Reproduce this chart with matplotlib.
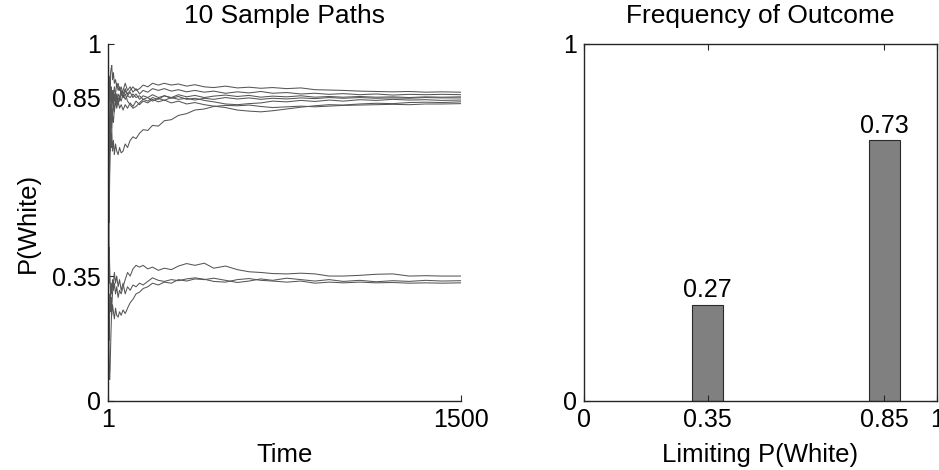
import matplotlib
matplotlib.use("Agg")
import matplotlib.pyplot as plt

plt.rcParams['font.family'] = ['Liberation Sans', 'DejaVu Sans']

# ---- data ----
times = [1, 2, 3, 4, 5, 6, 8, 10, 12, 14, 17, 20, 24, 28, 33, 38, 44, 50, 57, 65,
         74, 84, 95, 107, 120, 135, 150, 170, 190, 215, 240, 270, 300, 335, 370,
         410, 450, 500, 550, 600, 650, 700, 760, 820, 880, 940, 1000, 1070, 1140,
         1210, 1280, 1350, 1420, 1500]

path_u1 = [0.5, 1.0, 0.67, 0.75, 0.8, 0.83, 0.88, 0.9, 0.92, 0.93, 0.94, 0.9, 0.92, 0.89,
           0.9, 0.88, 0.89, 0.87, 0.88, 0.86, 0.875, 0.86, 0.87, 0.88, 0.87, 0.875, 0.885,
           0.88, 0.89, 0.885, 0.89, 0.885, 0.888, 0.882, 0.886, 0.88, 0.878, 0.882, 0.877,
           0.879, 0.876, 0.878, 0.875, 0.877, 0.872, 0.871, 0.87, 0.868, 0.867, 0.866,
           0.867, 0.865, 0.866, 0.865]
path_u2 = [0.5, 0.33, 0.5, 0.6, 0.67, 0.71, 0.78, 0.82, 0.85, 0.87, 0.82, 0.85, 0.87, 0.84,
           0.86, 0.89, 0.87, 0.88, 0.86, 0.87, 0.89, 0.87, 0.88, 0.865, 0.875, 0.86, 0.87,
           0.865, 0.875, 0.87, 0.875, 0.868, 0.872, 0.866, 0.87, 0.865, 0.868, 0.862, 0.866,
           0.863, 0.867, 0.862, 0.864, 0.86, 0.862, 0.859, 0.861, 0.858, 0.86, 0.857,
           0.859, 0.858, 0.859, 0.858]
path_u3 = [0.5, 0.67, 0.75, 0.8, 0.83, 0.86, 0.89, 0.91, 0.86, 0.88, 0.84, 0.87, 0.85, 0.88,
           0.86, 0.84, 0.86, 0.85, 0.87, 0.85, 0.86, 0.84, 0.83, 0.82, 0.825, 0.835, 0.845,
           0.84, 0.85, 0.845, 0.855, 0.85, 0.858, 0.852, 0.856, 0.85, 0.854, 0.857, 0.853,
           0.856, 0.851, 0.854, 0.852, 0.855, 0.851, 0.853, 0.851, 0.853, 0.851, 0.852,
           0.85, 0.852, 0.851, 0.852]
path_u4 = [0.5, 1.0, 1.0, 0.75, 0.8, 0.67, 0.75, 0.8, 0.83, 0.79, 0.82, 0.85, 0.83, 0.86,
           0.84, 0.86, 0.83, 0.85, 0.84, 0.86, 0.845, 0.855, 0.85, 0.86, 0.85, 0.855, 0.845,
           0.85, 0.84, 0.848, 0.842, 0.85, 0.845, 0.848, 0.843, 0.848, 0.845, 0.85, 0.846,
           0.849, 0.845, 0.848, 0.846, 0.849, 0.847, 0.85, 0.848, 0.85, 0.848, 0.849,
           0.848, 0.85, 0.849, 0.849]
path_u5 = [0.5, 0.67, 0.5, 0.4, 0.5, 0.57, 0.67, 0.73, 0.77, 0.8, 0.76, 0.8, 0.78, 0.82,
           0.85, 0.83, 0.85, 0.84, 0.86, 0.85, 0.87, 0.855, 0.865, 0.85, 0.86, 0.845, 0.855,
           0.85, 0.858, 0.85, 0.855, 0.848, 0.853, 0.845, 0.848, 0.842, 0.838, 0.832, 0.83,
           0.833, 0.835, 0.84, 0.838, 0.842, 0.839, 0.843, 0.84, 0.844, 0.842, 0.845,
           0.843, 0.844, 0.842, 0.843]
path_u6 = [0.5, 1.0, 0.67, 0.75, 0.6, 0.67, 0.75, 0.7, 0.75, 0.78, 0.82, 0.8, 0.83, 0.81,
           0.84, 0.82, 0.84, 0.82, 0.83, 0.815, 0.83, 0.82, 0.835, 0.825, 0.84, 0.83, 0.84,
           0.835, 0.845, 0.838, 0.843, 0.835, 0.84, 0.832, 0.836, 0.83, 0.826, 0.822, 0.815,
           0.812, 0.81, 0.813, 0.818, 0.823, 0.827, 0.83, 0.829, 0.832, 0.834, 0.833,
           0.836, 0.837, 0.836, 0.838]
path_u7 = [0.5, 0.0, 0.33, 0.5, 0.6, 0.5, 0.62, 0.7, 0.75, 0.71, 0.76, 0.7, 0.73, 0.69,
           0.72, 0.7, 0.69, 0.71, 0.695, 0.7, 0.72, 0.71, 0.73, 0.74, 0.735, 0.75, 0.76,
           0.758, 0.772, 0.77, 0.785, 0.788, 0.8, 0.805, 0.815, 0.818, 0.825, 0.828, 0.827,
           0.829, 0.825, 0.822, 0.824, 0.826, 0.824, 0.826, 0.828, 0.829, 0.83, 0.831,
           0.83, 0.832, 0.832, 0.833]
path_l1 = [0.5, 0.33, 0.5, 0.4, 0.33, 0.43, 0.38, 0.33, 0.29, 0.33, 0.3, 0.34, 0.31, 0.33,
           0.3, 0.32, 0.29, 0.31, 0.3, 0.32, 0.34, 0.36, 0.35, 0.37, 0.38, 0.375, 0.38,
           0.37, 0.375, 0.366, 0.372, 0.368, 0.378, 0.385, 0.38, 0.386, 0.372, 0.378, 0.368,
           0.362, 0.36, 0.357, 0.356, 0.358, 0.356, 0.35, 0.35, 0.352, 0.355, 0.356,
           0.35, 0.351, 0.35, 0.35]
path_l2 = [0.5, 0.0, 0.33, 0.25, 0.2, 0.17, 0.25, 0.3, 0.25, 0.29, 0.24, 0.27, 0.25, 0.23,
           0.26, 0.24, 0.235, 0.25, 0.24, 0.255, 0.245, 0.26, 0.275, 0.285, 0.3, 0.305, 0.315,
           0.32, 0.33, 0.325, 0.333, 0.33, 0.34, 0.336, 0.342, 0.34, 0.344, 0.338, 0.332,
           0.336, 0.342, 0.338, 0.344, 0.34, 0.336, 0.34, 0.335, 0.338, 0.334, 0.337,
           0.335, 0.338, 0.336, 0.337]
path_l3 = [0.5, 0.33, 0.25, 0.2, 0.17, 0.1, 0.06, 0.09, 0.15, 0.2, 0.26, 0.3, 0.33, 0.36,
           0.33, 0.35, 0.32, 0.34, 0.31, 0.33, 0.3, 0.32, 0.31, 0.325, 0.32, 0.33, 0.325,
           0.335, 0.345, 0.338, 0.335, 0.34, 0.337, 0.342, 0.345, 0.341, 0.335, 0.333, 0.34,
           0.343, 0.338, 0.336, 0.333, 0.336, 0.33, 0.333, 0.331, 0.333, 0.331, 0.332,
           0.33, 0.331, 0.33, 0.331]
paths = [path_u1, path_u2, path_u3, path_u4, path_u5, path_u6, path_u7,
         path_l1, path_l2, path_l3]

outcomes = [0.35, 0.85]
frequencies = [0.27, 0.73]
freq_labels = ["0.27", "0.73"]

# ---- figure ----
W, H = 939, 470
fig = plt.figure(figsize=(W / 100, H / 100), dpi=100)
FS = 18
FT = 19
FL = 18.5
spine_c = '#262626'

ax1 = fig.add_axes([108 / W, (H - 401) / H, 353 / W, 357 / H])
for p in paths:
    ax1.plot(times, p, color='#565656', lw=0.75)
ax1.set_xlim(1, 1500)
ax1.set_ylim(0, 1)
ax1.set_xticks([1, 1500])
ax1.set_xticklabels(['1', '1500'])
ax1.set_yticks([0, 0.35, 0.85, 1])
ax1.set_yticklabels(['0', '0.35', '0.85', '1'])
ax1.spines['top'].set_visible(False)
ax1.spines['right'].set_visible(False)
for s in ['left', 'bottom']:
    ax1.spines[s].set_color(spine_c)
    ax1.spines[s].set_linewidth(1.0)
ax1.tick_params(direction='in', length=4, labelsize=FS, color=spine_c, pad=5)
ax1.set_title('10 Sample Paths', fontsize=FT, pad=15)
ax1.set_xlabel('Time', fontsize=FL, labelpad=8)
ax1.set_ylabel('P(White)', fontsize=FL, labelpad=9)

ax2 = fig.add_axes([584 / W, (H - 401) / H, 353 / W, 357 / H])
bars = ax2.bar(outcomes, frequencies, width=0.088, color='#808080',
               edgecolor='#2a2a2a', linewidth=0.8)
for x, v, lab in zip(outcomes, frequencies, freq_labels):
    ax2.text(x, v + 0.008, lab, ha='center', va='bottom', fontsize=FS)
ax2.set_xlim(0, 1)
ax2.set_ylim(0, 1)
ax2.set_xticks([0, 0.35, 0.85, 1])
ax2.set_xticklabels(['0', '0.35', '0.85', '1'])
ax2.set_yticks([0, 1])
ax2.set_yticklabels(['0', '1'])
for s in ax2.spines.values():
    s.set_color(spine_c)
    s.set_linewidth(1.0)
ax2.tick_params(direction='in', length=4, labelsize=FS, color=spine_c, pad=5,
                top=True, right=True)
ax2.set_title('Frequency of Outcome', fontsize=FT, pad=15)
ax2.set_xlabel('Limiting P(White)', fontsize=FL, labelpad=8)

fig.savefig('out.png', dpi=100)
